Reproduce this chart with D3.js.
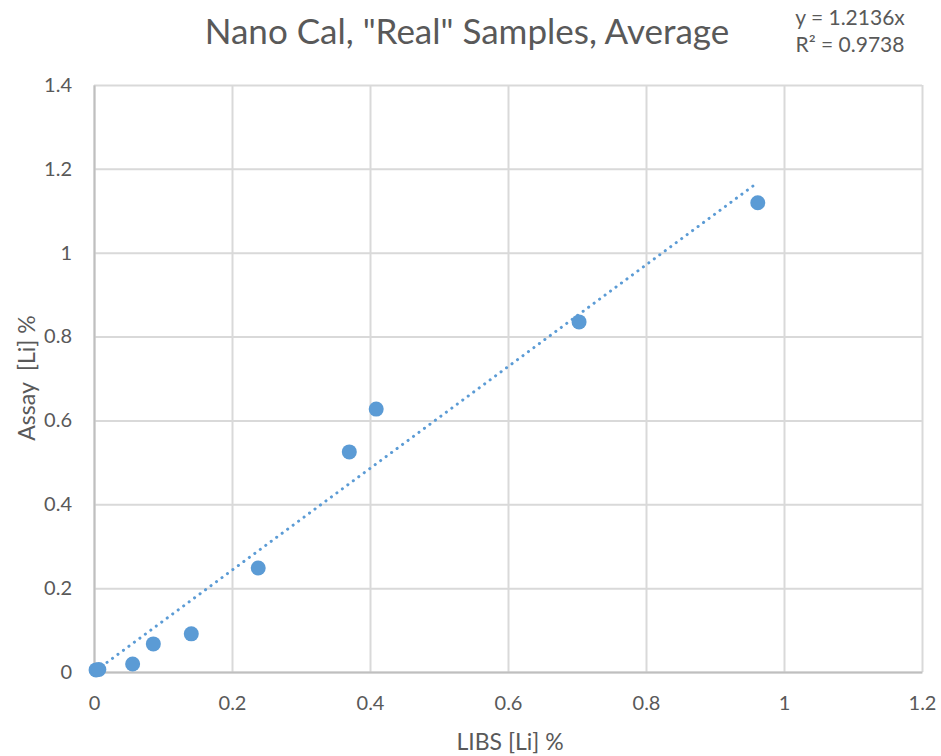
<!DOCTYPE html>
<html>
<head>
<meta charset="utf-8">
<script src="https://cdn.jsdelivr.net/npm/d3@7"></script>
<style>
  body { margin: 0; background: #fff; }
  text { font-family: Lato, "Open Sans", sans-serif; fill: #595959; }
</style>
</head>
<body>
<div id="chart"></div>
<script>
// data
var libs  = [0.003, 0.007, 0.056, 0.086, 0.141, 0.238, 0.370, 0.409, 0.703, 0.962];
var assay = [0.005, 0.006, 0.019, 0.067, 0.091, 0.248, 0.525, 0.627, 0.835, 1.119];
var slope = 1.2136;
var xTicks = [0, 0.2, 0.4, 0.6, 0.8, 1, 1.2];
var yTicks = [0, 0.2, 0.4, 0.6, 0.8, 1, 1.2, 1.4];

var data = libs.map(function(d, i) { return {x: d, y: assay[i]}; });

var W = 941, H = 756;
var margin = {top: 85, right: 19, bottom: 84, left: 94};
var width = W - margin.left - margin.right,
    height = H - margin.top - margin.bottom;

var svg = d3.select("#chart").append("svg")
  .attr("width", W).attr("height", H);

var g = svg.append("g")
  .attr("transform", "translate(" + margin.left + "," + margin.top + ")");

var x = d3.scaleLinear().domain([0, 1.2]).range([0, width]);
var y = d3.scaleLinear().domain([0, 1.4]).range([height, 0]);

// grid
g.append("g")
  .call(d3.axisBottom(x).tickValues(xTicks).tickSize(height).tickFormat(""))
  .call(function(s) { s.select(".domain").remove(); })
  .selectAll("line").attr("stroke", "#d9d9d9").attr("stroke-width", 2);

g.append("g")
  .call(d3.axisLeft(y).tickValues(yTicks).tickSize(-width).tickFormat(""))
  .call(function(s) { s.select(".domain").remove(); })
  .selectAll("line").attr("stroke", "#d9d9d9").attr("stroke-width", 2);

// axes
var xAxis = g.append("g")
  .attr("transform", "translate(0," + height + ")")
  .call(d3.axisBottom(x).tickValues(xTicks).tickSize(0).tickPadding(24).tickFormat(d3.format("")));
xAxis.select(".domain").attr("stroke", "#bfbfbf").attr("stroke-width", 2);
xAxis.selectAll("text").style("font-size", "20px").attr("fill", "#595959");

var yAxis = g.append("g")
  .call(d3.axisLeft(y).tickValues(yTicks).tickSize(0).tickPadding(22).tickFormat(d3.format("")));
yAxis.select(".domain").attr("stroke", "#bfbfbf").attr("stroke-width", 2);
yAxis.selectAll("text").style("font-size", "20px").attr("fill", "#595959");

// trendline y = slope * x
var xMin = d3.min(libs), xMax = d3.max(libs);
g.append("line")
  .attr("x1", x(xMin)).attr("y1", y(slope * xMin))
  .attr("x2", x(xMax)).attr("y2", y(slope * xMax))
  .attr("stroke", "#5b9bd5")
  .attr("stroke-width", 3)
  .attr("stroke-linecap", "round")
  .attr("stroke-dasharray", "0.1 6.7");

// points
g.selectAll("circle.pt")
  .data(data)
  .enter()
  .append("circle")
    .attr("class", "pt")
    .attr("cx", function(d) { return x(d.x); })
    .attr("cy", function(d) { return y(d.y); })
    .attr("r", 7.5)
    .attr("fill", "#5b9bd5");

// titles
svg.append("text")
  .attr("x", 467).attr("y", 44)
  .attr("text-anchor", "middle")
  .style("font-size", "35px")
  .text('Nano Cal, "Real" Samples, Average');

svg.append("text")
  .attr("x", 510).attr("y", 750)
  .attr("text-anchor", "middle")
  .style("font-size", "23px")
  .text("LIBS [Li] %");

svg.append("text")
  .attr("transform", "translate(35,378) rotate(-90)")
  .attr("text-anchor", "middle")
  .attr("xml:space", "preserve")
  .style("white-space", "pre")
  .style("font-size", "23px")
  .text("Assay  [Li] %");

// trendline label
svg.append("text")
  .attr("x", 850).attr("y", 25)
  .attr("text-anchor", "middle")
  .style("font-size", "21px")
  .text("y = " + slope + "x");

svg.append("text")
  .attr("x", 850).attr("y", 52)
  .attr("text-anchor", "middle")
  .style("font-size", "21px")
  .text("R\u00b2 = 0.9738");
</script>
</body>
</html>
